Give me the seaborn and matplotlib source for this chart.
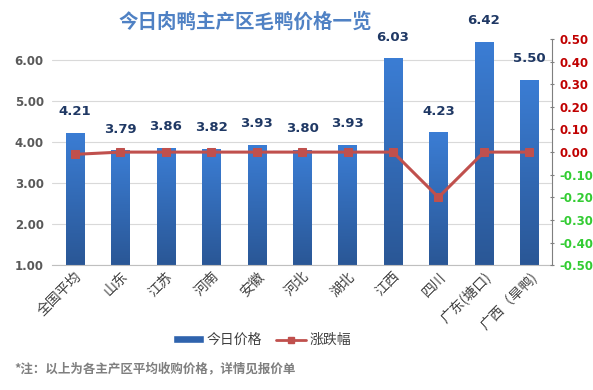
import numpy as np
import pandas as pd
import matplotlib
matplotlib.use("Agg")
import matplotlib.pyplot as plt
import seaborn as sns
from matplotlib.patches import Patch
from matplotlib.lines import Line2D

regions = ["全国平均", "山东", "江苏", "河南", "安徽", "河北", "湖北", "江西", "四川", "广东(塘口)", "广西（旱鸭)"]
prices = [4.21, 3.79, 3.86, 3.82, 3.93, 3.80, 3.93, 6.03, 4.23, 6.42, 5.50]
changes = [-0.01, 0.00, 0.00, 0.00, 0.00, 0.00, 0.00, 0.00, -0.20, 0.00, 0.00]
left_ticks = [1, 2, 3, 4, 5, 6]
right_ticks = [-0.5, -0.4, -0.3, -0.2, -0.1, 0.0, 0.1, 0.2, 0.3, 0.4, 0.5]

sns.set_style("white")
plt.rcParams['font.family'] = ['Noto Sans CJK SC', 'DejaVu Sans']

df = pd.DataFrame({"地区": regions, "今日价格": prices, "涨跌幅": changes})

fig = plt.figure(figsize=(5.93, 3.9), dpi=100)
ax = fig.add_axes([0.088, 0.32, 0.843, 0.58])

sns.barplot(data=df, x="地区", y="今日价格", color="#3a72c0", width=0.4, ax=ax, zorder=2)
ax.set_ylim(1, 6.5)
ax.set_xlim(-0.5, len(regions) - 0.5)

# gradient fill for bars (lighter top, darker bottom)
grad = np.linspace(0, 1, 100).reshape(-1, 1)
cmap = matplotlib.colors.LinearSegmentedColormap.from_list("b", ["#2a5796", "#3b7dd4"])
for p in ax.patches:
    x0, y0 = p.get_x(), p.get_y()
    w, h = p.get_width(), p.get_height()
    im = ax.imshow(grad, extent=[x0, x0 + w, 1, y0 + h], origin="lower", cmap=cmap,
                   aspect="auto", zorder=2)
    im.set_clip_path(p)
    p.set_facecolor("none")
    p.set_edgecolor("none")
ax.set_xlim(-0.5, len(regions) - 0.5)
ax.set_ylim(1, 6.5)

for i, v in enumerate(prices):
    ax.text(i, v + 0.36, f"{v:.2f}", ha="center", va="bottom", fontsize=9.5,
            fontweight="bold", color="#1f3864", family="DejaVu Sans")

ax.set_yticks(left_ticks)
ax.set_yticklabels([f"{t:.2f}" for t in left_ticks], fontsize=8.5, color="#595959",
                   fontweight="bold", family="DejaVu Sans")
ax.yaxis.grid(True, color="#d9d9d9", linewidth=0.8, zorder=0)
ax.set_axisbelow(True)
ax.tick_params(axis="y", length=0, pad=6)
ax.tick_params(axis="x", length=0, pad=3)
ax.set_xticks(range(len(regions)))
ax.set_xticklabels(regions, rotation=45, ha="right", rotation_mode="anchor",
                   fontsize=10, color="#404040")
ax.set_xlabel("")
ax.set_ylabel("")
for s in ["top", "left", "right"]:
    ax.spines[s].set_visible(False)
ax.spines["bottom"].set_color("#bfbfbf")

ax2 = ax.twinx()
sns.lineplot(x=np.arange(len(regions)), y=changes, sort=False, color="#c0504d",
             linewidth=2.2, marker="s", markersize=6, markeredgecolor="#c0504d", ax=ax2)
ax2.set_ylim(-0.5, 0.5)
ax2.set_yticks(right_ticks)
ax2.set_yticklabels([f"{t:.2f}" for t in right_ticks], fontsize=8.5, fontweight="bold",
                    family="DejaVu Sans")
for lab, t in zip(ax2.get_yticklabels(), right_ticks):
    lab.set_color("#c00000" if t >= 0 else "#33cc33")
ax2.tick_params(axis="y", length=3, color="#7f7f7f", direction="inout", pad=4)
for s in ["top", "left", "bottom"]:
    ax2.spines[s].set_visible(False)
ax2.spines["right"].set_color("#7f7f7f")
ax2.set_ylabel("")

handles = [Patch(facecolor="#2f63ad", label="今日价格"),
           Line2D([0], [0], color="#c0504d", lw=2, marker="s", markersize=5, label="涨跌幅")]
fig.legend(handles=handles, loc="center", bbox_to_anchor=(262 / 593, 1 - 340 / 390), ncol=2,
           frameon=False, fontsize=10, handlelength=2.2, handletextpad=0.2, columnspacing=1.0,
           handleheight=0.45, labelcolor="#404040")

fig.text(245 / 593, 1 - 22 / 390, "今日肉鸭主产区毛鸭价格一览", ha="center", va="center",
         fontsize=14, fontweight="bold", color="#4f81c4")
fig.text(14 / 593, 1 - 369 / 390, "*注：以上为各主产区平均收购价格，详情见报价单", ha="left",
         va="center", fontsize=9, color="#7f7f7f", fontweight="bold")

fig.savefig("out.png", dpi=100, facecolor="white")
